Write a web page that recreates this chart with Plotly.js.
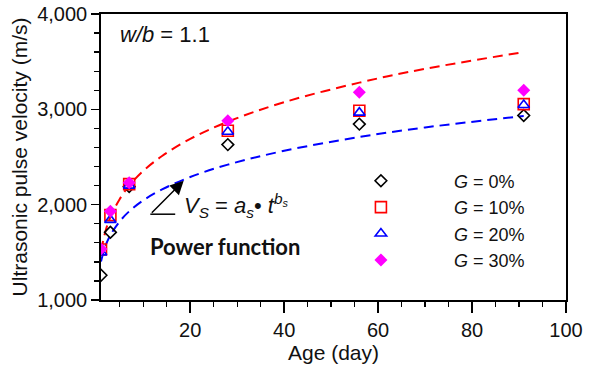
<!DOCTYPE html>
<html>
<head>
<meta charset="utf-8">
<script src="https://cdn.plot.ly/plotly-3.0.1.min.js"></script>
<style>html,body{margin:0;padding:0;background:#fff;}#chart{width:592px;height:369px;}</style>
</head>
<body>
<div id="chart"></div>
<script>
// Ages (days) of the measurements
const ages = [1, 3, 7, 28, 56, 91];
// Ultrasonic pulse velocity (m/s) for each granulated content
const g0  = [1260, 1710, 2190, 2630, 2845, 2935];
const g10 = [1530, 1890, 2215, 2775, 2985, 3055];
const g20 = [1500, 1840, 2200, 2765, 2965, 3045];
const g30 = [1535, 1930, 2230, 2880, 3180, 3200];
const seriesNames = ['<i>G</i> = 0%', '<i>G</i> = 10%', '<i>G</i> = 20%', '<i>G</i> = 30%'];
// Power-function fit curves
const fitAges = [1, 2, 3, 5, 7, 10, 14, 20, 28, 40, 56, 70, 91];
const fitUpper = [1515, 1730, 1870, 2060, 2200, 2355, 2510, 2690, 2870, 3075, 3280, 3425, 3600];
const fitLower = [1405, 1575, 1680, 1825, 1930, 2045, 2160, 2290, 2420, 2565, 2710, 2810, 2930];
// Axis ticks
const xTicks = [20, 40, 60, 80, 100];
const yTicks = [1000, 2000, 3000, 4000];

const dashStyle = '10px,6px';
const traces = [
  {x: fitAges, y: fitUpper, mode: 'lines', line: {color: '#ff0000', width: 2, dash: dashStyle, shape: 'spline'}, showlegend: false, hoverinfo: 'skip'},
  {x: fitAges, y: fitLower, mode: 'lines', line: {color: '#0000ff', width: 2, dash: dashStyle, shape: 'spline'}, showlegend: false, hoverinfo: 'skip'},
  {x: ages, y: g0, mode: 'markers', name: seriesNames[0], legendgroup: 'a',
   marker: {symbol: 'diamond-open', size: 9, color: '#000000', line: {width: 1.6, color: '#000000'}}},
  {x: ages, y: g10, mode: 'markers', name: seriesNames[1], legendgroup: 'b',
   marker: {symbol: 'square-open', size: 11, color: '#ff0000', line: {width: 1.6, color: '#ff0000'}}},
  {x: ages, y: g20, mode: 'markers', name: seriesNames[2], legendgroup: 'c',
   marker: {symbol: 'triangle-up-open', size: 10, color: '#0000ff', line: {width: 1.6, color: '#0000ff'}}},
  {x: ages, y: g30, mode: 'markers', name: seriesNames[3], legendgroup: 'd',
   marker: {symbol: 'diamond', size: 10, color: '#ff00ff', line: {width: 0}}}
];

const font = 'Liberation Sans, Arial, sans-serif';
const txt = '#111111';
const layout = {
  width: 592, height: 369,
  margin: {l: 101, r: 26, t: 14, b: 69},
  paper_bgcolor: '#ffffff', plot_bgcolor: '#ffffff',
  font: {family: font, size: 20, color: txt},
  showlegend: true,
  legend: {
    x: 0.445, y: 0.278, xanchor: 'left', yanchor: 'middle',
    bgcolor: 'rgba(0,0,0,0)', borderwidth: 0,
    font: {family: font, size: 18, color: txt},
    traceorder: 'grouped', tracegroupgap: 0, itemwidth: 136
  },
  xaxis: {
    range: [1, 100], tickvals: xTicks, ticktext: xTicks.map(String),
    ticks: 'outside', ticklen: 11, tickwidth: 1.5, tickcolor: '#000',
    minor: {dtick: 5, tick0: 0, ticks: 'outside', ticklen: 5, tickwidth: 1.3, tickcolor: '#000'},
    showline: true, linecolor: '#000', linewidth: 1.8, mirror: true,
    showgrid: false, zeroline: false,
    tickfont: {family: font, size: 20, color: txt},
    title: {text: 'Age (day)', font: {family: font, size: 21, color: txt}, standoff: 2}
  },
  yaxis: {
    range: [1000, 4000], tickvals: yTicks, tickformat: ',d',
    ticks: 'outside', ticklen: 8, tickwidth: 1.5, tickcolor: '#000',
    minor: {dtick: 200, tick0: 0, ticks: 'outside', ticklen: 5, tickwidth: 1.3, tickcolor: '#000'},
    showline: true, linecolor: '#000', linewidth: 1.8, mirror: true,
    showgrid: false, zeroline: false,
    tickfont: {family: font, size: 20, color: txt},
    title: {text: 'Ultrasonic pulse velocity (m/s)', font: {family: font, size: 21, color: txt}, standoff: 4}
  },
  shapes: [
    {type: 'line', xref: 'x', yref: 'y', x0: 11.5, y0: 1900, x1: 16.8, y1: 1900, line: {color: '#000', width: 1.5}}
  ],
  annotations: [
    {xref: 'paper', yref: 'paper', x: 0.036, y: 0.93, xanchor: 'left', yanchor: 'middle', showarrow: false,
     text: '<i>w/b</i> = 1.1', font: {family: font, size: 22, color: txt}},
    {xref: 'x', yref: 'y', x: 18.6, y: 2250, ax: 11.5, ay: 1900, axref: 'x', ayref: 'y', text: '',
     showarrow: true, arrowhead: 2, arrowsize: 1.8, arrowwidth: 1.5, arrowcolor: '#000'},
    {xref: 'x', yref: 'y', x: 18.2, y: 1990, xanchor: 'left', yanchor: 'middle', showarrow: false,
     text: '<i>V<sub>S</sub></i> = <i>a<sub>s</sub></i>\u2022 <i>t<sup>b<sub>s</sub></sup></i>', font: {family: font, size: 22, color: txt}},
    {xref: 'x', yref: 'y', x: 11.0, y: 1560, xanchor: 'left', yanchor: 'middle', showarrow: false,
     text: '<b>Power function</b>', font: {family: 'Lato, Open Sans, sans-serif', size: 22, color: txt}}
  ]
};

Plotly.newPlot('chart', traces, layout, {displayModeBar: false, staticPlot: true});
</script>
</body>
</html>
